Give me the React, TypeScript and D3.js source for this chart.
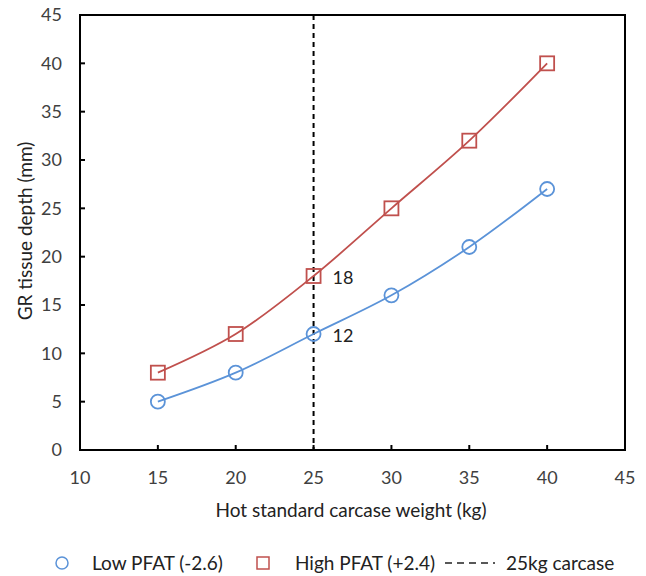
import React from "react";
import * as d3 from "d3";

const weights = [15, 20, 25, 30, 35, 40];
const lowPfat = [5, 8, 12, 16, 21, 27];
const highPfat = [8, 12, 18, 25, 32, 40];
const xTicks = [10, 15, 20, 25, 30, 35, 40, 45];
const yTicks = [0, 5, 10, 15, 20, 25, 30, 35, 40, 45];
const annotations = [
  { x: 25, y: 18, label: "18" },
  { x: 25, y: 12, label: "12" },
];
const refWeight = 25;

const BLUE = "#5B93D8";
const RED = "#C0504D";
const FONT = "Lato, 'Open Sans', sans-serif";
const TEXT = "#404040";

export default function App() {
  const W = 646, H = 576;
  const left = 80, right = 625, top = 15, bottom = 450;
  const x = d3.scaleLinear().domain([10, 45]).range([left, right]);
  const y = d3.scaleLinear().domain([0, 45]).range([bottom, top]);
  const line = d3
    .line<number>()
    .x((_, i) => x(weights[i]))
    .y((d) => y(d))
    .curve(d3.curveCatmullRom.alpha(0.5));

  return (
    <svg width={W} height={H} style={{ position: "absolute", left: 0, top: 0, background: "#fff" }}>
      <rect x={left} y={top} width={right - left} height={bottom - top} fill="none" stroke="#000" strokeWidth={2} />
      {yTicks.map((t) => (
        <g key={"y" + t}>
          {t > 0 && t < 45 && <line x1={left} x2={left + 5} y1={y(t)} y2={y(t)} stroke="#000" strokeWidth={2} />}
          <text x={62} y={y(t)} dy="0.35em" textAnchor="end" fontFamily={FONT} fontSize={18} fill={TEXT}>
            {t}
          </text>
        </g>
      ))}
      {xTicks.map((t) => (
        <g key={"x" + t}>
          {t > 10 && t < 45 && <line x1={x(t)} x2={x(t)} y1={bottom} y2={bottom - 5} stroke="#000" strokeWidth={2} />}
          <text x={x(t)} y={478} dy="0.35em" textAnchor="middle" fontFamily={FONT} fontSize={18} fill={TEXT}>
            {t}
          </text>
        </g>
      ))}
      <line x1={x(refWeight)} x2={x(refWeight)} y1={top} y2={bottom} stroke="#000" strokeWidth={2} strokeDasharray="5,4" />
      <path d={line(lowPfat) || ""} fill="none" stroke={BLUE} strokeWidth={1.8} />
      <path d={line(highPfat) || ""} fill="none" stroke={RED} strokeWidth={1.8} />
      {lowPfat.map((v, i) => (
        <circle key={"c" + i} cx={x(weights[i])} cy={y(v)} r={7} fill="none" stroke={BLUE} strokeWidth={1.8} />
      ))}
      {highPfat.map((v, i) => (
        <rect key={"s" + i} x={x(weights[i]) - 7} y={y(v) - 7} width={14} height={14} fill="none" stroke={RED} strokeWidth={1.8} />
      ))}
      {annotations.map((a) => (
        <text key={a.label} x={x(a.x) + 19} y={y(a.y) + 2} dy="0.35em" fontFamily={FONT} fontSize={18} fill="#222">
          {a.label}
        </text>
      ))}
      <text x={25} y={231} transform="rotate(-90, 25, 231)" dy="0.35em" textAnchor="middle" fontFamily={FONT} fontSize={19} fill="#222">
        GR tissue depth (mm)
      </text>
      <text x={351} y={510} dy="0.35em" textAnchor="middle" fontFamily={FONT} fontSize={19} fill="#222">
        Hot standard carcase weight (kg)
      </text>
      <g fontFamily={FONT} fontSize={19} fill="#222">
        <circle cx={62} cy={563} r={6} fill="none" stroke={BLUE} strokeWidth={1.5} />
        <text x={92} y={563} dy="0.35em">Low PFAT (-2.6)</text>
        <rect x={257} y={557} width={12} height={12} fill="none" stroke={RED} strokeWidth={1.5} />
        <text x={295} y={563} dy="0.35em">High PFAT (+2.4)</text>
        <line x1={445} x2={495} y1={563} y2={563} stroke="#222" strokeWidth={1.5} strokeDasharray="7,5" />
        <text x={506} y={563} dy="0.35em">25kg carcase</text>
      </g>
    </svg>
  );
}
